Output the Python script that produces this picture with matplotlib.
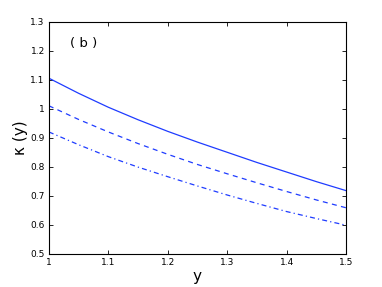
import numpy as np
import matplotlib
matplotlib.use('Agg')
import matplotlib.pyplot as plt
from matplotlib.ticker import FuncFormatter

# values
y = [1.0, 1.05, 1.1, 1.15, 1.2, 1.25, 1.3, 1.35, 1.4, 1.45, 1.5]
kappa_solid = [1.105, 1.053, 1.005, 0.962, 0.922, 0.885, 0.850, 0.815, 0.782, 0.749, 0.718]
kappa_dash = [1.010, 0.963, 0.920, 0.880, 0.843, 0.808, 0.776, 0.745, 0.715, 0.686, 0.659]
kappa_dashdot = [0.920, 0.876, 0.835, 0.799, 0.766, 0.734, 0.703, 0.674, 0.646, 0.622, 0.599]

xticks = [1, 1.1, 1.2, 1.3, 1.4, 1.5]
yticks = [0.5, 0.6, 0.7, 0.8, 0.9, 1, 1.1, 1.2, 1.3]

fig = plt.figure(figsize=(3.82, 2.87), dpi=100)
ax = fig.add_axes([0.128, 0.115, 0.778, 0.81])

col = '#1f3cff'
ax.plot(y, kappa_solid, '-', color=col, lw=0.9)
ax.plot(y, kappa_dash, '--', color=col, lw=0.9, dashes=(4, 3.5))
ax.plot(y, kappa_dashdot, '-.', color=col, lw=0.9, dashes=(4, 2.5, 1, 2.5))

ax.set_xlim(1, 1.5)
ax.set_ylim(0.5, 1.3)
ax.set_xticks(xticks)
ax.set_yticks(yticks)
fmt = FuncFormatter(lambda v, p: '%g' % round(v, 2))
ax.xaxis.set_major_formatter(fmt)
ax.yaxis.set_major_formatter(fmt)
ax.tick_params(direction='in', top=True, right=True, labelsize=6.5, length=3, width=0.6, pad=3)
for s in ax.spines.values():
    s.set_linewidth(0.8)

ax.set_xlabel('y', fontsize=11, labelpad=1)
ax.set_ylabel('\u03ba (y)', fontsize=11, labelpad=2)
ax.text(0.07, 0.905, '( b )', transform=ax.transAxes, fontsize=9.5, va='center')

fig.savefig('out.png', dpi=100)
